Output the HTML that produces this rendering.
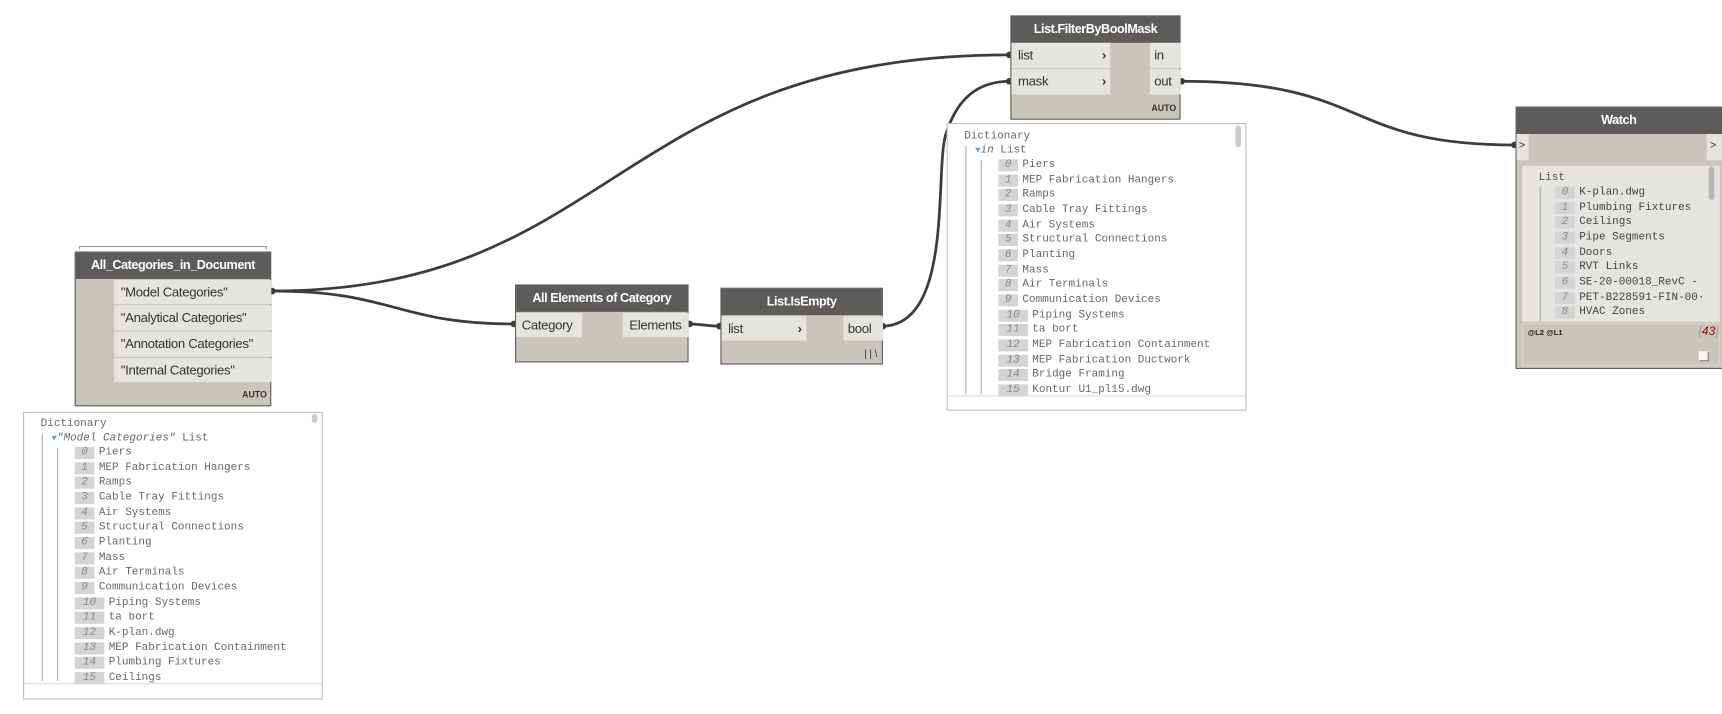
<!DOCTYPE html>
<html><head><meta charset="utf-8"><style>
html,body{margin:0;padding:0;background:#fff;width:1722px;height:714px;overflow:hidden}
#s{position:absolute;left:0;top:0;width:1568px;height:650px;transform:scale(1.0982);transform-origin:0 0;font-family:"Liberation Sans",sans-serif}
.a{position:absolute;box-sizing:border-box}
.node{position:absolute;background:#c9c5bd;border:1px solid #5e5c5a;box-sizing:border-box}
.hd{position:absolute;left:0;right:0;top:0;background:#5e5c5a;color:#fff;font-size:11.5px;font-weight:bold;text-align:center;letter-spacing:-0.4px}
.pt{position:absolute;background:#e6e4e0;font-size:12px;color:#333;box-sizing:border-box;padding-left:6px;letter-spacing:-0.3px}
.auto{position:absolute;font-size:8px;font-weight:bold;color:#333}
.w{position:absolute;background:#fff;border:1px solid #bdbdbd;box-sizing:border-box;font-family:"Liberation Mono",monospace;font-size:10px;color:#666}
.li{position:absolute;white-space:nowrap;height:12px;line-height:12px}
.ix{display:inline-block;vertical-align:top;height:11px;line-height:11px;background:#d4d4d4;color:#888;font-style:italic;text-align:center;margin-right:4px;box-sizing:border-box}
.vl{position:absolute;width:1px;background:#aaa}
</style></head><body><div id="s">
<svg class="a" style="left:0;top:0" width="1568" height="650">
<g fill="none" stroke="#3c3c3c" stroke-width="2.5">
<path d="M247,265 C560,265 560,50 920,50"/>
<path d="M247,265 C360,265 360,295 469,295"/>
<path d="M627,295 C640,295 642,297 656,297"/>
<path d="M803,297 C870,297 850,150 862,120 C872,90 890,74 920,74"/>
<path d="M1075,74 C1250,74 1220,132 1380,132"/>
</g>
<g fill="#3c3c3c"><circle cx="248" cy="265" r="3"/><circle cx="468" cy="295" r="3"/><circle cx="628" cy="295" r="3"/><circle cx="655" cy="297" r="3"/><circle cx="804" cy="297" r="3"/><circle cx="919" cy="50" r="3"/><circle cx="919" cy="74" r="3"/><circle cx="1076" cy="74" r="3"/><circle cx="1379" cy="132" r="3"/></g>
</svg>

<div class="a" style="left:72px;top:224px;width:171px;height:3px;border:1px solid #999;border-bottom:none"></div>
<div class="node" style="left:68px;top:229px;width:179px;height:141px">
<div class="hd" style="height:24px;line-height:24px">All_Categories_in_Document</div>
<div class="pt" style="left:35px;top:25px;width:143px;height:22px;line-height:22px">"Model Categories"</div>
<div class="pt" style="left:35px;top:48px;width:143px;height:23px;line-height:23px">"Analytical Categories"</div>
<div class="pt" style="left:35px;top:72px;width:143px;height:23px;line-height:23px">"Annotation Categories"</div>
<div class="pt" style="left:35px;top:96px;width:143px;height:22px;line-height:22px">"Internal Categories"</div>
<div class="auto" style="right:3px;bottom:5px">AUTO</div>
</div>

<div class="w" style="left:21px;top:375px;width:273px;height:262px">
<div class="a" style="left:262px;top:1px;width:5px;height:8px;background:#ccc;border-radius:3px"></div>
<div class="li" style="left:15px;top:5px">Dictionary</div>
<div class="vl" style="left:16px;top:19px;height:225px"></div>
<div class="li" style="left:25px;top:18px"><span style="color:#6b9bd1;font-size:8px">▼</span><i>"Model Categories"</i> List</div>
<div class="vl" style="left:30px;top:32px;height:212px"></div>
<div class="a" style="left:0;top:246px;width:271px;height:1px;background:#ddd"></div>
<div id="l1"></div>
</div>

<div class="node" style="left:469px;top:259px;width:158px;height:71px">
<div class="hd" style="height:24px;line-height:24px">All Elements of Category</div>
<div class="pt" style="left:0;top:25px;width:60px;height:22px;line-height:22px;padding-left:5px">Category</div>
<div class="pt" style="left:97px;top:25px;width:60px;height:22px;line-height:22px">Elements</div>
</div>

<div class="node" style="left:656px;top:262px;width:148px;height:70px">
<div class="hd" style="height:24px;line-height:24px">List.IsEmpty</div>
<div class="pt" style="left:0;top:25px;width:77px;height:22px;line-height:22px">list<span style="position:absolute;right:4px;font-weight:bold">›</span></div>
<div class="pt" style="left:111px;top:25px;width:36px;height:22px;line-height:22px;padding-left:4px">bool</div>
<div class="auto" style="right:4px;bottom:4px;font-weight:normal;font-size:9px">| | \</div>
</div>

<div class="node" style="left:920px;top:14px;width:155px;height:95px">
<div class="hd" style="height:24px;line-height:24px">List.FilterByBoolMask</div>
<div class="pt" style="left:0;top:24px;width:90px;height:23px;line-height:23px">list<span style="position:absolute;right:4px;font-weight:bold">›</span></div>
<div class="pt" style="left:0;top:48px;width:90px;height:23px;line-height:23px">mask<span style="position:absolute;right:4px;font-weight:bold">›</span></div>
<div class="pt" style="left:126px;top:24px;width:28px;height:23px;line-height:23px;padding-left:4px">in</div>
<div class="pt" style="left:126px;top:48px;width:28px;height:23px;line-height:23px;padding-left:4px">out</div>
<div class="auto" style="right:3px;bottom:5px">AUTO</div>
</div>

<div class="w" style="left:862px;top:112px;width:273px;height:262px">
<div class="a" style="left:262px;top:1px;width:5px;height:20px;background:#ccc;border-radius:3px"></div>
<div class="li" style="left:15px;top:6px">Dictionary</div>
<div class="vl" style="left:16px;top:20px;height:226px"></div>
<div class="li" style="left:25px;top:19px"><span style="color:#6b9bd1;font-size:8px">▼</span><i>in</i> List</div>
<div class="vl" style="left:30px;top:33px;height:213px"></div>
<div class="a" style="left:0;top:247px;width:271px;height:1px;background:#ddd"></div>
<div id="l2"></div>
</div>

<div class="node" style="left:1380px;top:97px;width:200px;height:239px">
<div class="hd" style="height:24px;line-height:24px;padding-right:12px">Watch</div>
<div class="a" style="left:0;top:24px;width:11px;height:24px;background:#e6e4e0;font-size:10px;line-height:22px;padding-left:2px;color:#333">&gt;</div>
<div class="a" style="left:173px;top:24px;width:14px;height:24px;background:#e6e4e0;font-size:10px;line-height:22px;padding-left:3px;color:#333">&gt;</div>
<div class="a" style="left:5px;top:53px;width:180px;height:142px;background:#e6e4e0;font-family:'Liberation Mono',monospace;font-size:10px;color:#555;overflow:hidden">
<div class="a" style="left:170px;top:1px;width:5px;height:30px;background:#b5b5b5;border-radius:3px"></div>
<div class="li" style="left:15px;top:6px">List</div>
<div class="vl" style="left:16px;top:19px;height:123px;background:#aaa"></div>
<div id="l3"></div>
</div>
<div class="a" style="left:5px;top:196px;width:180px;height:39px;border:1px solid #d8d6d0"></div>
<div class="a" style="left:10px;top:202px;font-size:7px;font-weight:bold;color:#222">@L2 @L1</div>
<div class="a" style="left:165px;top:198px;font-size:11px;font-style:italic;color:#999">{<span style="color:#a00">43</span>}</div>
<div class="a" style="left:166px;top:222px;width:9px;height:9px;background:#f4f4f4;border:1px solid #777;border-top-color:#fff;border-left-color:#fff"></div>
</div>

</div>
<script>
function fill(id,items,top,left,step,col){
 var h='';items.forEach(function(t,i){var w=i<10?18:27;h+='<div class="li" style="left:'+left+'px;top:'+(top+i*step)+'px"><span class="ix" style="width:'+w+'px">'+i+'</span><span style="color:'+col+'">'+t+'</span></div>';});
 document.getElementById(id).outerHTML=h;}
var A=["Piers","MEP Fabrication Hangers","Ramps","Cable Tray Fittings","Air Systems","Structural Connections","Planting","Mass","Air Terminals","Communication Devices","Piping Systems","ta bort"];
fill('l1',A.concat(["K-plan.dwg","MEP Fabrication Containment","Plumbing Fixtures","Ceilings"]),31,46,13.67,'#666');
fill('l2',A.concat(["MEP Fabrication Containment","MEP Fabrication Ductwork","Bridge Framing","Kontur U1_pl15.dwg"]),32,46,13.67,'#666');
fill('l3',["K-plan.dwg","Plumbing Fixtures","Ceilings","Pipe Segments","Doors","RVT Links","SE-20-00018_RevC -","PET-B228591-FIN-00·","HVAC Zones"],19,30,13.67,'#444');
</script>
</body></html>
